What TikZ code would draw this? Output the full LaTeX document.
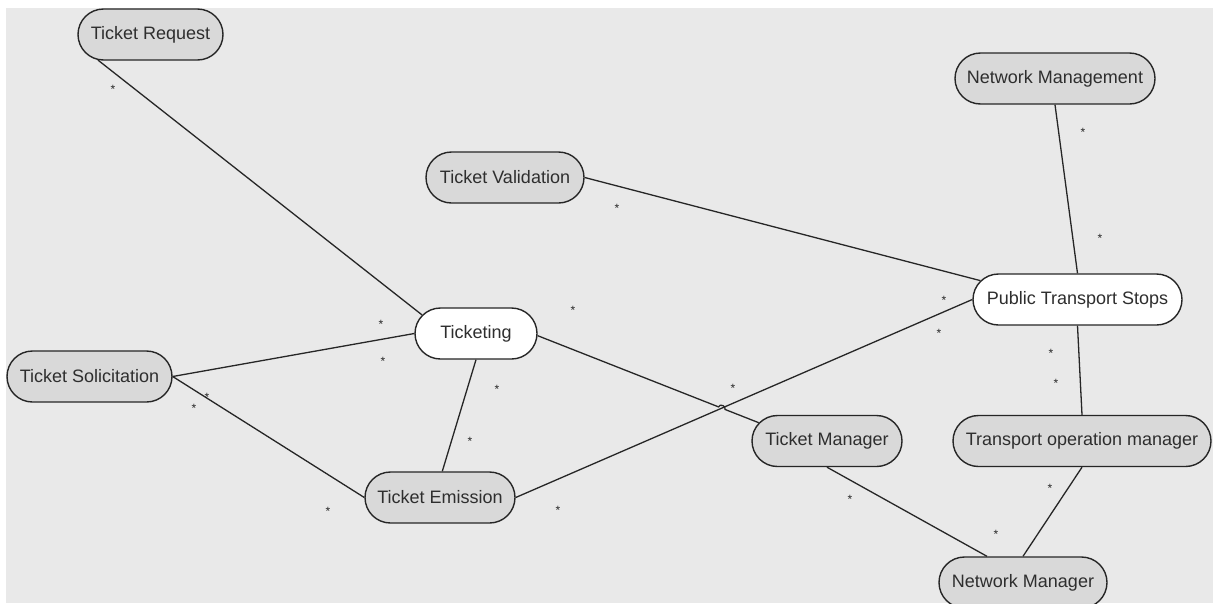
\documentclass[tikz,border=0pt]{standalone}
\usepackage{fontspec}
\setmainfont{Liberation Sans}
\usetikzlibrary{shapes.misc,calc,intersections}
\definecolor{bgc}{HTML}{E9E9E9}
\definecolor{nfill}{HTML}{D9D9D9}
\definecolor{ink}{HTML}{262626}
\definecolor{txt}{HTML}{2E2E2E}
\begin{document}
\begin{tikzpicture}[x=1pt,y=-1pt,
  ent/.style={rounded rectangle, draw=ink, line width=1.4pt, fill=nfill,
    minimum height=51pt, inner xsep=-20pt, inner ysep=0pt,
    font=\fontsize{18}{20}\selectfont, text=txt},
  entw/.style={ent, fill=white},
  conn/.style={draw=ink, line width=1.3pt},
  mult/.style={font=\fontsize{12}{12}\selectfont, text=ink, inner sep=0pt,
    anchor=base, yshift=-6.9pt}]
\useasboundingbox (0,0) rectangle (1213,603);
\clip (0,0) rectangle (1213,603);
\fill[white] (0,0) rectangle (1213,603);
\fill[bgc] (6,8) rectangle (1213,603);

% entities
\node[ent,  minimum width=105pt] (treq)  at (150.5,34.5)  {Ticket Request};
\node[ent,  minimum width=160pt] (nmgmt) at (1055,78.5)   {Network Management};
\node[ent,  minimum width=118pt] (tval)  at (505,177.5)   {Ticket Validation};
\node[entw, minimum width=82pt]  (tkt)   at (476,333.5)   {Ticketing};
\node[entw, minimum width=169pt] (pts)   at (1077.5,299.5){Public Transport Stops};
\node[ent,  minimum width=125pt] (tsol)  at (89.5,376.5)  {Ticket Solicitation};
\node[ent,  minimum width=110pt] (tman)  at (827,441)     {Ticket Manager};
\node[ent,  minimum width=218pt] (tom)   at (1082,441)    {Transport operation manager};
\node[ent,  minimum width=110pt] (temis) at (440,497.5)   {Ticket Emission};
\node[ent,  minimum width=128pt] (nmgr)  at (1023,582.5)  {Network Manager};

% connectors
\draw[conn] (treq.206) -- (tkt.161);
\draw[conn] (tsol.east) -- (tkt.west);
\draw[conn] (tsol.east) -- (temis.west);
\draw[conn] (tkt.south) -- (temis.85.5);
\draw[conn] (tval.east) -- (pts.169);
\draw[conn] (nmgmt.south) -- (pts.north);
\draw[conn] (pts.south) -- (tom.north);
\draw[conn, name path=lineB] (temis.east) -- (pts.west);
\path[name path=lineA] (tkt.358) -- (tman.165);
\path[name intersections={of=lineA and lineB, by=X}];
\coordinate (h1) at ($(X)!3.5pt!(tkt.358)$);
\coordinate (h2) at ($(X)!3.5pt!(tman.165)$);
\draw[conn] (tkt.358) -- (h1) to[bend left=90, looseness=1.4] (h2) -- (tman.165);
\draw[conn] (tman.south) -- (nmgr.144);
\draw[conn] (tom.south) -- (nmgr.north);

% multiplicities
\node[mult] (m1)  at (113,87)  {*};
\node[mult] (m2)  at (617,206) {*};
\node[mult] (m3)  at (1083,130) {*};
\node[mult] (m4)  at (1100,236) {*};
\node[mult] (m5)  at (381,322) {*};
\node[mult] (m6)  at (383,359) {*};
\node[mult] (m7)  at (573,308) {*};
\node[mult] (m8)  at (944,298) {*};
\node[mult] (m9)  at (939,331) {*};
\node[mult] (m10) at (1051,351) {*};
\node[mult] (m11) at (1056,381) {*};
\node[mult] (m12) at (207,395) {*};
\node[mult] (m13) at (194,406) {*};
\node[mult] (m14) at (497,387) {*};
\node[mult] (m15) at (470,439) {*};
\node[mult] (m16) at (733,386) {*};
\node[mult] (m17) at (328,509) {*};
\node[mult] (m18) at (558,508) {*};
\node[mult] (m19) at (850,497) {*};
\node[mult] (m20) at (1050,486) {*};
\node[mult] (m21) at (996,532) {*};
\end{tikzpicture}
\end{document}
